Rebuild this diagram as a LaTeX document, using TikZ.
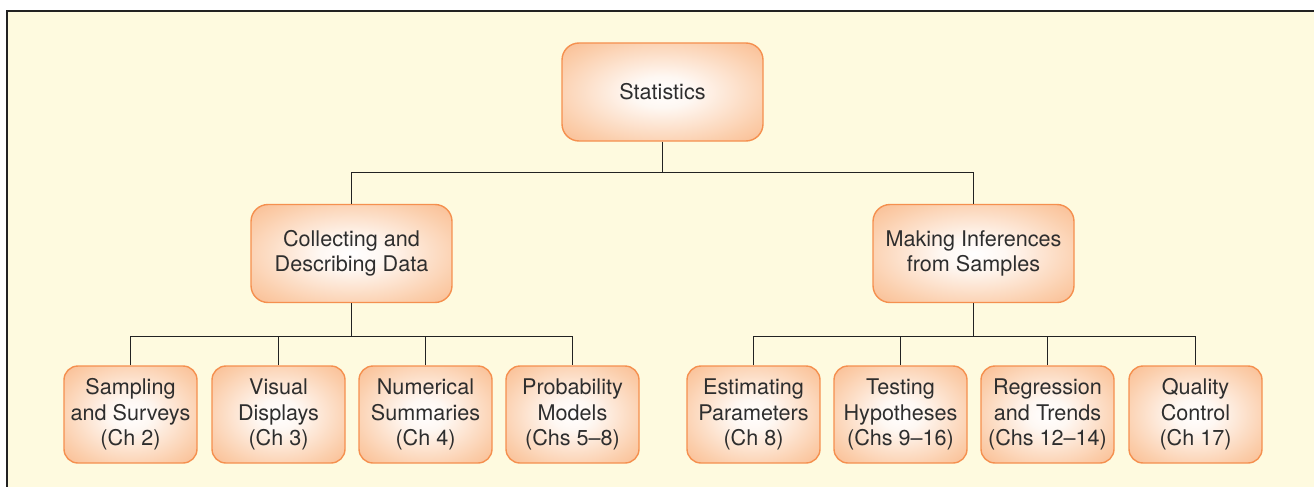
\documentclass[tikz,border=0pt]{standalone}
\usepackage{fontspec}
\setmainfont{TeX Gyre Heros}
\definecolor{cream}{HTML}{FEFADF}
\definecolor{boxedge}{HTML}{F5904F}
\definecolor{boxout}{HTML}{F8AB78}
\definecolor{boxmid}{HTML}{FBCDAA}
\definecolor{txt}{HTML}{2E2E2E}
\definecolor{framec}{HTML}{222222}
\pgfdeclareradialshading{boxshade}{\pgfpoint{0bp}{0bp}}{%
  color(0bp)=(white); color(8bp)=(white!85!boxmid); color(28bp)=(boxmid); color(44bp)=(boxout); color(50bp)=(boxout)}
\tikzset{
  x=1pt, y=-1pt,
  box/.style={rectangle, draw=boxedge, line width=1.4pt, shading=boxshade,
    text=txt, align=center, inner sep=0pt,
    font=\fontsize{21.6}{25.5}\selectfont},
  bigbox/.style={box, minimum width=201pt, minimum height=98pt, rounded corners=17pt},
  smallbox/.style={box, minimum width=133pt, minimum height=97pt, rounded corners=14pt},
  conn/.style={draw=framec, line width=1.1pt}
}
\begin{document}
\begin{tikzpicture}
\useasboundingbox (0,0) rectangle (1314,487);
\fill[white] (0,0) rectangle (1314,487);
\fill[cream] (7,11) rectangle (1314,487);
\draw[framec, line width=2pt] (7,487) -- (7,11) -- (1314,11);

\coordinate (bus0) at (662.5,172.5);
\coordinate (bus1) at (351.5,336.5);
\coordinate (bus2) at (973.5,336.5);

\node[bigbox] (stat) at (662.5,92) {Statistics};
\node[bigbox] (coll) at (351.5,253.5) {Collecting and\\Describing Data};
\node[bigbox] (make) at (973.5,253.5) {Making Inferences\\from Samples};

\node[smallbox] (s1) at (130.5,414.5) {Sampling\\and Surveys\\(Ch 2)};
\node[smallbox] (s2) at (278.5,414.5) {Visual\\Displays\\(Ch 3)};
\node[smallbox] (s3) at (425.5,414.5) {Numerical\\Summaries\\(Ch 4)};
\node[smallbox] (s4) at (572.5,414.5) {Probability\\Models\\(Chs 5–8)};
\node[smallbox] (s5) at (753.5,414.5) {Estimating\\Parameters\\(Ch 8)};
\node[smallbox] (s6) at (900.5,414.5) {Testing\\Hypotheses\\(Chs 9–16)};
\node[smallbox] (s7) at (1047.5,414.5) {Regression\\and Trends\\(Chs 12–14)};
\node[smallbox] (s8) at (1195.5,414.5) {Quality\\Control\\(Ch 17)};

\draw[conn] (stat.south) -- (bus0);
\draw[conn] (coll.north) -- (coll.north |- bus0) -- (make.north |- bus0) -- (make.north);

\draw[conn] (coll.south) -- (bus1);
\draw[conn] (s1.north) -- (s1.north |- bus1) -- (s4.north |- bus1) -- (s4.north);
\draw[conn] (s2.north) -- (s2.north |- bus1);
\draw[conn] (s3.north) -- (s3.north |- bus1);
\draw[conn] (make.south) -- (bus2);
\draw[conn] (s5.north) -- (s5.north |- bus2) -- (s8.north |- bus2) -- (s8.north);
\draw[conn] (s6.north) -- (s6.north |- bus2);
\draw[conn] (s7.north) -- (s7.north |- bus2);
\end{tikzpicture}
\end{document}
